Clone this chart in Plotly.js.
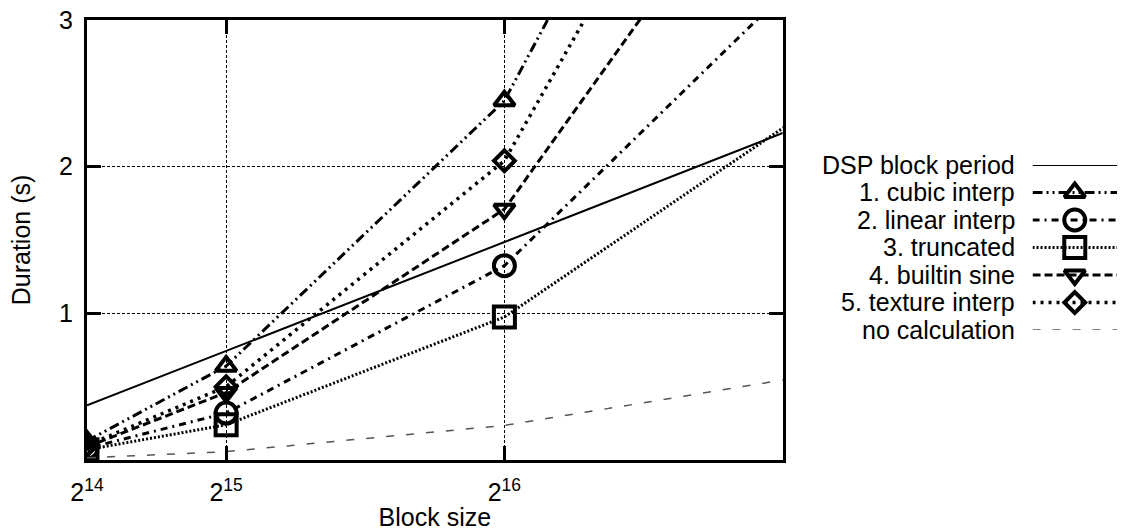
<!DOCTYPE html>
<html>
<head>
<meta charset="utf-8">
<script src="https://cdn.plot.ly/plotly-3.0.1.min.js"></script>
<style>
  html, body { margin: 0; padding: 0; background: #ffffff; }
  #chart { width: 1124px; height: 531px; }
</style>
</head>
<body>
<div id="chart"></div>
<script>
// Block sizes (samples) and the measured durations (seconds) per method.
const blockSizes = [16384, 32768, 65536, 131072];
const tickValues = [16384, 32768, 65536];
const tickLabels = ['2<sup>14</sup>', '2<sup>15</sup>', '2<sup>16</sup>'];

const dspBlockPeriod = [0.372, 0.743, 1.486, 2.972];
const cubicInterp    = [0.13, 0.64, 2.45, 9.54];
const linearInterp   = [0.08, 0.32, 1.325, 5.02];
const truncated      = [0.07, 0.24, 0.975, 3.55];
const builtinSine    = [0.09, 0.46, 1.71, 7.02];
const textureInterp  = [0.10, 0.50, 2.04, 8.72];
const noCalculation  = [0.015, 0.057, 0.236, 0.854];

const seriesNames = [
  'DSP block period',
  '1. cubic interp',
  '2. linear interp',
  '3. truncated',
  '4. builtin sine',
  '5. texture interp',
  'no calculation'
];
const seriesValues = [
  dspBlockPeriod, cubicInterp, linearInterp, truncated,
  builtinSine, textureInterp, noCalculation
];

// Line and marker styling for each series, in the same order.
const styles = [
  { color: '#000', width: 2,   dash: 'solid',                    symbol: null,                 size: 0 },
  { color: '#000', width: 3,   dash: '10px,4px,2px,4px,2px,4px', symbol: 'triangle-up-open',   size: 18 },
  { color: '#000', width: 3,   dash: '7px,5px,2px,5px',          symbol: 'circle-open',        size: 21 },
  { color: '#000', width: 3,   dash: '2px,2px',                  symbol: 'square-open',        size: 21 },
  { color: '#000', width: 3,   dash: '8px,4px',                  symbol: 'triangle-down-open', size: 18 },
  { color: '#000', width: 3.5, dash: '3px,5px',                  symbol: 'diamond-open',       size: 16 },
  { color: '#555', width: 1.5, dash: '8px,12px',                 symbol: null,                 size: 0 }
];
const markerStroke = 4;

const font = 'Liberation Sans, Arial, Helvetica, sans-serif';
const traces = [];

function makeTrace(st, x, y, axes, markerSizes, markerWidths) {
  const t = {
    type: 'scatter',
    x: x,
    y: y,
    mode: st.symbol ? 'lines+markers' : 'lines',
    line: { color: st.color, width: st.width, dash: st.dash },
    showlegend: false,
    hoverinfo: 'skip',
    xaxis: axes[0], yaxis: axes[1]
  };
  if (st.symbol) {
    t.marker = {
      symbol: st.symbol, size: markerSizes, color: '#000', opacity: 1,
      line: { color: '#000', width: markerWidths }
    };
  }
  return t;
}

// Data series on the main axes.
seriesNames.forEach((name, i) => {
  const st = styles[i];
  const tr = makeTrace(st, blockSizes, seriesValues[i], ['x', 'y'], st.size, markerStroke);
  tr.name = name;
  traces.push(tr);
});

// Key on the right: one sample row per series, marker in the middle.
seriesNames.forEach((name, i) => {
  const st = styles[i];
  traces.push(makeTrace(st, [0, 0.5, 1], [i, i, i], ['x2', 'y2'],
    [0, st.size, 0], [0, markerStroke, 0]));
});

const keyLabels = seriesNames.map((name, i) => ({
  text: name,
  xref: 'paper', yref: 'y2',
  x: 0.903, y: i,
  xanchor: 'right', yanchor: 'middle',
  showarrow: false,
  font: { family: font, size: 25, color: '#000' }
}));

const axisCommon = {
  showline: true, linecolor: '#000', linewidth: 3,
  mirror: 'allticks',
  ticks: 'inside', ticklen: 14, tickwidth: 3, tickcolor: '#000',
  showgrid: true, gridcolor: '#000', gridwidth: 1, griddash: '3px,2px',
  zeroline: false,
  tickfont: { family: font, size: 25, color: '#000' }
};

const layout = {
  width: 1124, height: 531,
  margin: { l: 87, r: 7, t: 20, b: 71 },
  paper_bgcolor: '#fff', plot_bgcolor: '#fff',
  font: { family: font, color: '#000' },
  xaxis: Object.assign({}, axisCommon, {
    domain: [0, 0.6754],
    range: [16384, 98304],
    tickmode: 'array', tickvals: tickValues, ticktext: tickLabels,
    ticklabelstandoff: 8,
    title: { text: 'Block size', font: { family: font, size: 25 }, standoff: 0 },
    anchor: 'y'
  }),
  yaxis: Object.assign({}, axisCommon, {
    domain: [0, 1],
    range: [0, 3],
    tickmode: 'array', tickvals: [1, 2, 3], ticktext: ['1', '2', '3'],
    ticklabelstandoff: 6,
    title: { text: 'Duration (s)', font: { family: font, size: 25 }, standoff: 22 },
    anchor: 'x'
  }),
  xaxis2: { domain: [0.918, 1.0], range: [0, 1], visible: false, anchor: 'y2', fixedrange: true },
  yaxis2: { domain: [0.2955, 0.6705], range: [6, 0], visible: false, anchor: 'x2', fixedrange: true },
  annotations: keyLabels,
  showlegend: false
};

Plotly.newPlot('chart', traces, layout, { staticPlot: true, displayModeBar: false });
</script>
</body>
</html>
